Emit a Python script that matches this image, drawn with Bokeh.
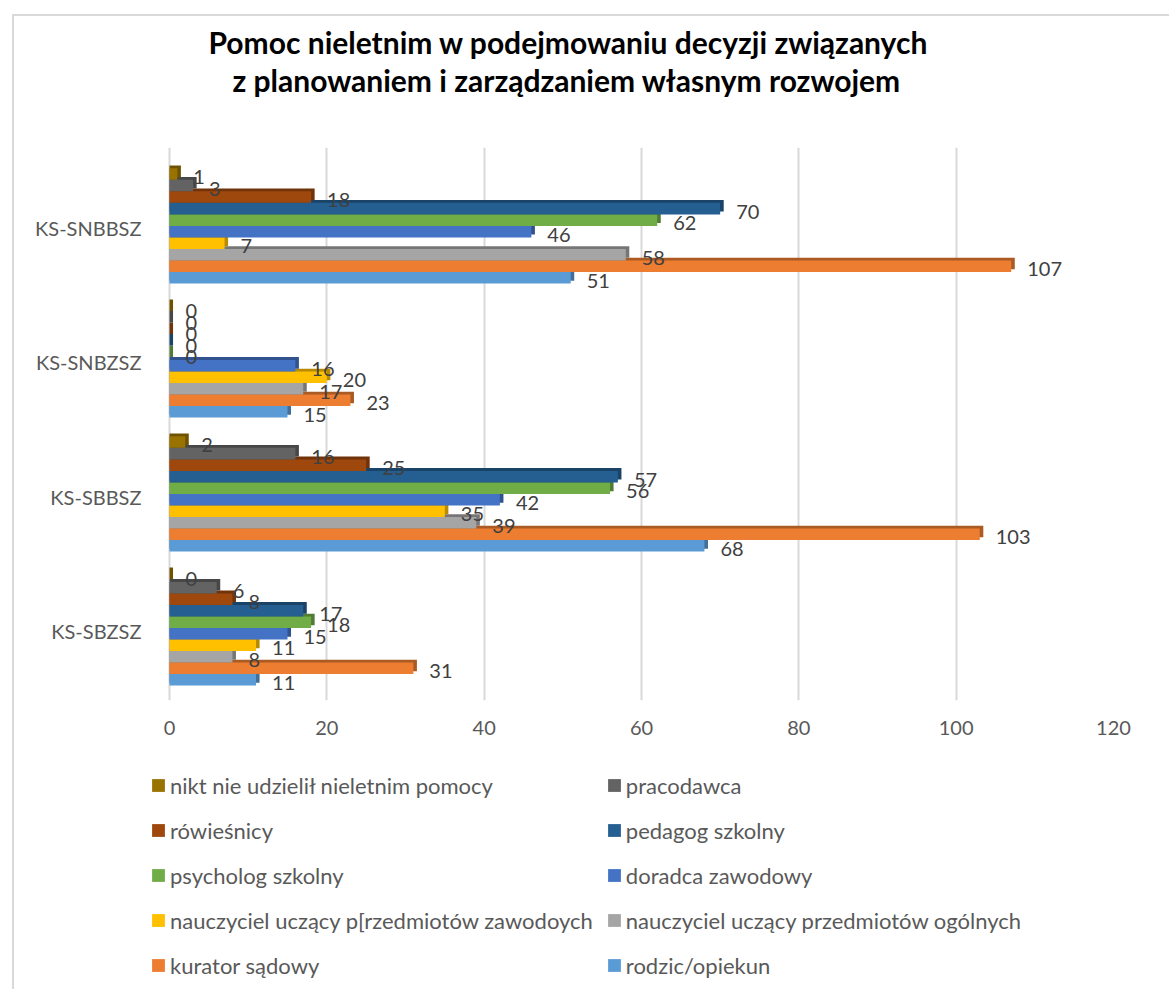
import numpy as np
from bokeh.plotting import figure
from bokeh.layouts import column
from bokeh.models import Legend, LegendItem, FixedTicker, Title, Range1d
from bokeh.core.properties import value
from bokeh.embed import file_html
from bokeh.resources import INLINE

# ---- data ----
categories = ["KS-SBZSZ", "KS-SBBSZ", "KS-SNBZSZ", "KS-SNBBSZ"]
series = [
    "rodzic/opiekun",
    "kurator sądowy",
    "nauczyciel uczący przedmiotów ogólnych",
    "nauczyciel uczący p[rzedmiotów zawodoych",
    "doradca zawodowy",
    "psycholog szkolny",
    "pedagog szkolny",
    "rówieśnicy",
    "pracodawca",
    "nikt nie udzielił nieletnim pomocy",
]
rodzic = [11, 68, 15, 51]
kurator = [31, 103, 23, 107]
ogolnych = [8, 39, 17, 58]
zawodowych = [11, 35, 20, 7]
doradca = [15, 42, 16, 46]
psycholog = [18, 56, 0, 62]
pedagog = [17, 57, 0, 70]
rowiesnicy = [8, 25, 0, 18]
pracodawca = [6, 16, 0, 3]
nikt = [0, 2, 0, 1]
values = [rodzic, kurator, ogolnych, zawodowych, doradca, psycholog, pedagog, rowiesnicy, pracodawca, nikt]
colors = ["#5B9BD5", "#ED7D31", "#A5A5A5", "#FFC000", "#4472C4",
          "#70AD47", "#255E91", "#9E480E", "#636363", "#997300"]
x_ticks = [0, 20, 40, 60, 80, 100, 120]
title_lines = ["Pomoc nieletnim w podejmowaniu decyzji związanych",
               "z planowaniem i zarządzaniem własnym rozwojem"]


def darken(hexc, f=0.72):
    r, g, b = (int(hexc[i:i + 2], 16) for i in (1, 3, 5))
    return "#%02x%02x%02x" % (int(r * f), int(g * f), int(b * f))


FONT = "Lato"
W = 1155
H1, H2 = 739, 234
X0 = -2.415          # empty strip left of the bars (room for the legend swatches)
p = figure(width=W, height=H1, output_backend="svg", toolbar_location=None,
           x_range=(X0, 120), y_range=(-0.522, 3.604),
           min_border_left=136, min_border_right=56, min_border_top=131,
           min_border_bottom=55)
p.outline_line_color = None
p.background_fill_color = "white"
p.border_fill_color = "white"

n = len(series)
h = 0.086
shift = 0.019
dx, dy = 0.45, 0.021

ys_all = []
for j in range(n):
    ys_all.append([i + shift + (j - (n - 1) / 2) * h for i in range(len(categories))])

# 3D depth faces
for j in range(n):
    vals = values[j]
    p.hbar(y=[y + dy for y in ys_all[j]], left=0, right=[v + dx for v in vals],
           height=h, fill_color=darken(colors[j]), line_color=None)

for j in range(n):
    p.hbar(y=ys_all[j], left=0, right=values[j], height=h,
           fill_color=colors[j], line_color=None)

for j in range(n):
    p.text(x=values[j], y=ys_all[j], text=[str(v) for v in values[j]],
           x_offset=16, y_offset=3, text_baseline="middle", text_align="left",
           text_font=value(FONT), text_font_size="20px", text_color="#404040")

# axes
p.xaxis.ticker = FixedTicker(ticks=x_ticks)
p.xgrid.ticker = FixedTicker(ticks=x_ticks)
p.xgrid.grid_line_color = "#d9d9d9"
p.xgrid.grid_line_width = 2
p.ygrid.grid_line_color = None
for ax in (p.xaxis, p.yaxis):
    ax.axis_line_color = None
    ax.major_tick_line_color = None
    ax.minor_tick_line_color = None
    ax.major_label_text_font = FONT
    ax.major_label_text_font_size = "20px"
    ax.major_label_text_color = "#595959"
p.xaxis.major_label_standoff = 14
p.yaxis.ticker = FixedTicker(ticks=list(range(len(categories))))
p.yaxis.major_label_overrides = {i: c for i, c in enumerate(categories)}
p.yaxis.major_label_standoff = 3

# titles (first added sits closest to the plot)
p.add_layout(Title(text=" ", text_font_size="10px", standoff=37), "above")
p.add_layout(Title(text=title_lines[1], align="left", offset=82, standoff=0,
                   text_font=FONT, text_font_size="30px", text_font_style="bold",
                   text_color="black"), "above")
p.add_layout(Title(text=title_lines[0], align="left", offset=58, standoff=0,
                   text_font=FONT, text_font_size="30px", text_font_style="bold",
                   text_color="black"), "above")

# legend panel (swatch renderers use the data but lie outside this panel's view)
p2 = figure(width=W, height=H2, output_backend="svg", toolbar_location=None,
            x_range=Range1d(X0, 120), y_range=Range1d(10, 11), min_border=0)
p2.axis.visible = False
p2.grid.grid_line_color = None
p2.outline_line_color = None
p2.border_fill_color = "white"
swatches = []
for j in range(n):
    swatches.append(p2.hbar(y=ys_all[j], right=values[j], left=0, height=h,
                            fill_color=colors[j], line_color=None))
order = list(range(n))[::-1]
items = [LegendItem(label=series[j], renderers=[swatches[j]]) for j in order]
legend = Legend(items=items, location=(0, 8), orientation="horizontal",
                ncols=2, label_text_font=FONT, label_text_font_size="22px",
                label_text_color="#595959", glyph_width=16, glyph_height=16,
                label_height=32, label_width=422, label_standoff=4, spacing=13,
                padding=0, margin=0, border_line_color=None,
                background_fill_alpha=0)
p2.add_layout(legend, "center")

layout = column(p, p2, spacing=0,
                styles={"margin-left": "12px", "margin-top": "14px",
                        "border-left": "2px solid #d9d9d9",
                        "border-top": "2px solid #d9d9d9"})

open("out.html", "w").write(file_html(layout, INLINE))
